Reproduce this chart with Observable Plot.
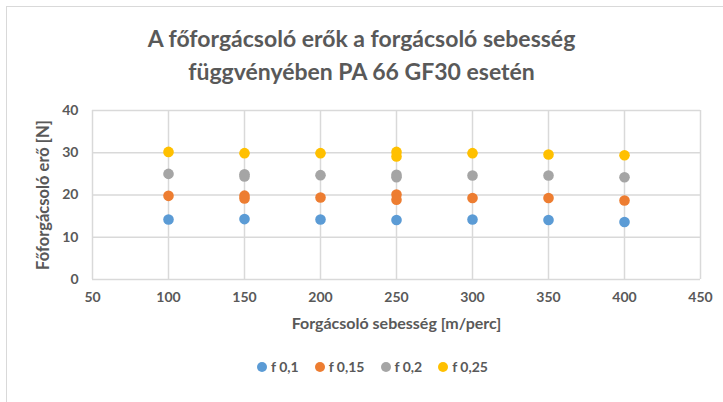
<!DOCTYPE html>
<html>
<head>
<meta charset="utf-8">
<script src="https://cdn.jsdelivr.net/npm/d3@7"></script>
<script src="https://cdn.jsdelivr.net/npm/@observablehq/plot@0.6"></script>
<style>
  html, body { margin: 0; padding: 0; background: #fff; }
  body { width: 723px; height: 402px; overflow: hidden; position: relative; font-family: Lato, "Open Sans", sans-serif; color: #595959; }
  #frame { position: absolute; left: 6px; top: 6px; width: 800px; height: 500px; border: 1.5px solid #D9D9D9; box-sizing: border-box; }
  #title { position: absolute; left: 0; top: 22px; width: 723px; text-align: center; font-weight: bold; font-size: 23px; line-height: 33px; color: #595959; }
  #chart { position: absolute; left: 0; top: 96px; }
  #chart svg { overflow: visible; }
  #legend { position: absolute; left: 0; top: 358px; width: 723px; display: flex; justify-content: center; gap: 16px; font-size: 14px; font-weight: bold; color: #595959; padding-left: 22px; box-sizing: border-box; }
  .item { display: flex; align-items: center; gap: 4px; }
  .sw { width: 10px; height: 10px; border-radius: 50%; display: inline-block; }
</style>
</head>
<body>
<div id="frame"></div>
<div id="title">A főforgácsoló erők a forgácsoló sebesség<br>függvényében PA 66 GF30 esetén</div>
<div id="chart"></div>
<div id="legend"></div>
<script>
// Data
const speeds = [100, 150, 200, 250, 300, 350, 400];
const seriesNames = ["f 0,1", "f 0,15", "f 0,2", "f 0,25"];
const seriesColors = ["#5B9BD5", "#ED7D31", "#A5A5A5", "#FFC000"];
const f01 = [14.2, 14.3, 14.2, 14.1, 14.2, 14.1, 13.6];
const f015 = [19.8, 19.85, 19.4, 20.1, 19.3, 19.3, 18.7];
const f02 = [25.0, 24.9, 24.7, 24.8, 24.6, 24.6, 24.2];
const f025 = [30.2, 29.9, 29.9, 30.2, 29.9, 29.6, 29.4];
// repeated measurements visible as overlapping markers
const repeatSpeeds = [150, 250];
const f015Repeat = [19.2, 18.9];
const f02Repeat = [24.4, 24.2];
const f025RepeatSpeeds = [250];
const f025Repeat = [29.1];
const xTicks = [50, 100, 150, 200, 250, 300, 350, 400, 450];
const yTicks = [0, 10, 20, 30, 40];
const yTitle = "Főforgácsoló erő [N]";
const xTitle = "Forgácsoló sebesség [m/perc]";

const rows = [];
[f01, f015, f02, f025].forEach((vals, i) => {
  vals.forEach((v, j) => rows.push({speed: speeds[j], force: v, series: seriesNames[i]}));
});
repeatSpeeds.forEach((s, j) => rows.push({speed: s, force: f015Repeat[j], series: seriesNames[1]}));
repeatSpeeds.forEach((s, j) => rows.push({speed: s, force: f02Repeat[j], series: seriesNames[2]}));
f025RepeatSpeeds.forEach((s, j) => rows.push({speed: s, force: f025Repeat[j], series: seriesNames[3]}));
rows.sort((a, b) => seriesNames.indexOf(a.series) - seriesNames.indexOf(b.series));

const plot = Plot.plot({
  width: 723,
  height: 245,
  marginTop: 14,
  marginBottom: 62,
  marginLeft: 92,
  marginRight: 23,
  style: {fontFamily: "Lato, 'Open Sans', sans-serif", fontSize: "14px", fontWeight: "bold", color: "#595959", background: "transparent", overflow: "visible"},
  x: {domain: [50, 450], ticks: xTicks, label: null},
  y: {domain: [0, 40], ticks: yTicks, label: null},
  color: {domain: seriesNames, range: seriesColors},
  marks: [
    Plot.gridX(xTicks, {stroke: "#D9D9D9", strokeOpacity: 1, strokeWidth: 1.5}),
    Plot.gridY(yTicks, {stroke: "#D9D9D9", strokeOpacity: 1, strokeWidth: 1.5}),
    Plot.axisX(xTicks, {tickSize: 0, tickPadding: 13, label: null, fill: "#595959"}),
    Plot.axisY(yTicks, {tickSize: 0, tickPadding: 14, label: null, fill: "#595959"}),
    Plot.dot(rows, {x: "speed", y: "force", fill: "series", r: 5.3, stroke: null}),
    Plot.text([yTitle], {frameAnchor: "left", dx: -49, rotate: -90, textAnchor: "middle", lineAnchor: "middle", fontSize: 16.5, fontWeight: "bold", fill: "#595959"}),
    Plot.text([xTitle], {frameAnchor: "bottom", dy: 49, textAnchor: "middle", fontSize: 16, fontWeight: "bold", fill: "#595959"})
  ]
});
document.getElementById("chart").appendChild(plot);

const legend = document.getElementById("legend");
seriesNames.forEach((name, i) => {
  const item = document.createElement("span");
  item.className = "item";
  item.innerHTML = `<span class="sw" style="background:${seriesColors[i]}"></span><span>${name}</span>`;
  legend.appendChild(item);
});
</script>
</body>
</html>
